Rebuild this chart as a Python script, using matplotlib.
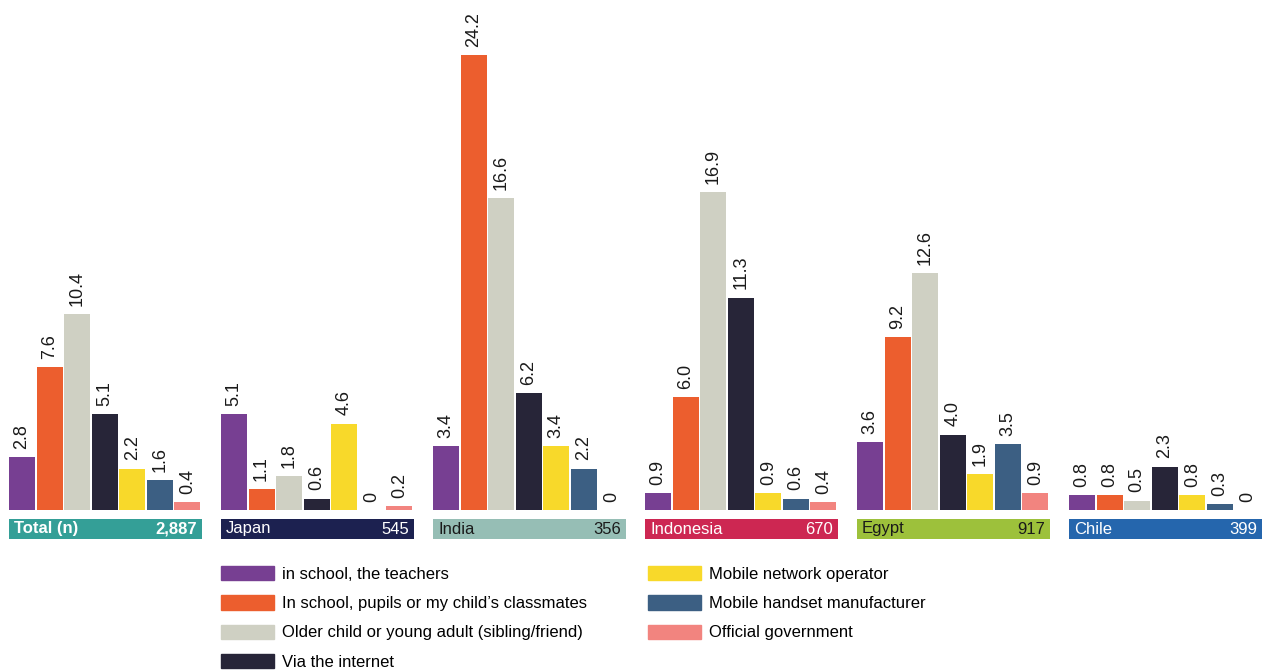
import numpy as np
import matplotlib.pyplot as plt
from matplotlib.patches import Patch

plt.rcParams['font.family'] = ['Liberation Sans', 'DejaVu Sans']

# categories (series) and groups
series = ['in school, the teachers',
          'In school, pupils or my child\u2019s classmates',
          'Older child or young adult (sibling/friend)',
          'Via the internet',
          'Mobile network operator',
          'Mobile handset manufacturer',
          'Official government']
colors = ['#773F92', '#EC5E2E', '#CFD0C3', '#272538', '#F8D92A', '#3C5F83', '#F2847F']

groups = ['Total (n)', 'Japan', 'India', 'Indonesia', 'Egypt', 'Chile']
group_n = ['2,887', '545', '356', '670', '917', '399']
group_colors = ['#349F97', '#1C2150', '#96BEB5', '#CD2752', '#9DC13B', '#2566AD']
group_text = ['white', 'white', '#1a1a1a', 'white', '#1a1a1a', 'white']

total = [2.8, 7.6, 10.4, 5.1, 2.2, 1.6, 0.4]
japan = [5.1, 1.1, 1.8, 0.6, 4.6, 0, 0.2]
india = [3.4, 24.2, 16.6, 6.2, 3.4, 2.2, 0]
indonesia = [0.9, 6.0, 16.9, 11.3, 0.9, 0.6, 0.4]
egypt = [3.6, 9.2, 12.6, 4.0, 1.9, 3.5, 0.9]
chile = [0.8, 0.8, 0.5, 2.3, 0.8, 0.3, 0]
values = [total, japan, india, indonesia, egypt, chile]

W, H = 1267, 671
fig = plt.figure(figsize=(W / 100, H / 100), dpi=100)
base_px = 510
px_per_unit = 18.8
ax = fig.add_axes([0, 1 - base_px / H, 1, base_px / H])
ax.set_xlim(0, W)
ax.set_ylim(0, base_px / px_per_unit)
ax.axis('off')

g0, pitch, gw = 9, 212, 193
slot = gw / 7
bw = 26

for g, vals in enumerate(values):
    left = g0 + g * pitch
    xs = left + slot * np.arange(7) + bw / 2
    ax.bar(xs, vals, width=bw, color=colors, linewidth=0)
    for x, v in zip(xs, vals):
        lab = '0' if v == 0 else f'{v:.1f}'
        ax.annotate(lab, (x, v), xytext=(0, 6), textcoords='offset points',
                    rotation=90, ha='center', va='bottom', fontsize=13,
                    color='#1a1a1a')
    # country box
    y_top = -(519 - base_px) / px_per_unit
    y_bot = -(539 - base_px) / px_per_unit
    ax.add_patch(plt.Rectangle((left, y_bot), gw, y_top - y_bot,
                               color=group_colors[g], clip_on=False, lw=0))
    ymid = (y_top + y_bot) / 2
    ax.text(left + 5, ymid, groups[g], color=group_text[g], fontsize=12,
            va='center', ha='left', clip_on=False,
            fontweight='bold' if g == 0 else 'normal')
    ax.text(left + gw - 5, ymid, group_n[g], color=group_text[g], fontsize=12,
            va='center', ha='right', clip_on=False,
            fontweight='bold' if g == 0 else 'normal')

handles = [Patch(color=c, label=s) for c, s in zip(colors, series)]
leg_kw = dict(frameon=False, loc='upper left', fontsize=12, handlelength=3.2,
              handleheight=0.95, labelspacing=0.8, borderpad=0,
              borderaxespad=0, handletextpad=0.45)
fig.legend(handles=handles[:4], bbox_to_anchor=(221 / W, 1 - 566 / H), **leg_kw)
fig.legend(handles=handles[4:], bbox_to_anchor=(648 / W, 1 - 566 / H), **leg_kw)

fig.savefig('out.png', dpi=100)
